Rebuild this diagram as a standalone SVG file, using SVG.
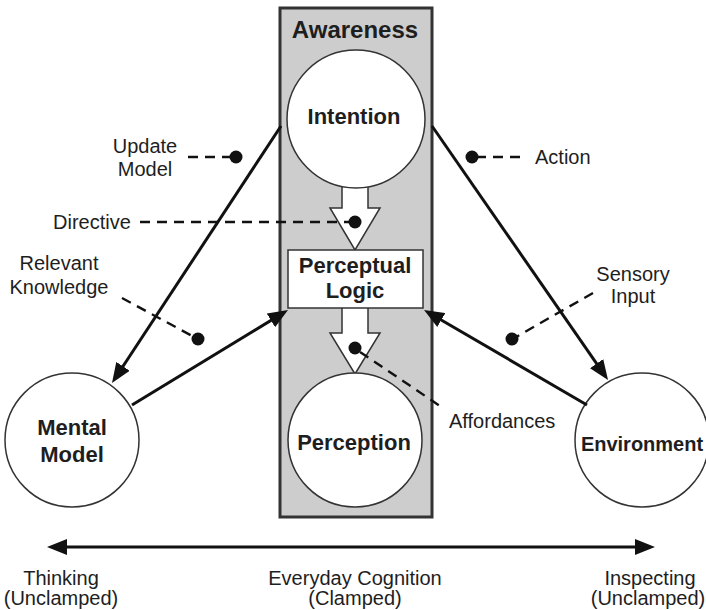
<svg xmlns="http://www.w3.org/2000/svg" width="706" height="610" viewBox="0 0 706 610">
<style>
.lbl{font-family:"Liberation Sans",Arial,sans-serif;font-size:20px;fill:#1e1e1e}
.bold{font-family:"Liberation Sans",Arial,sans-serif;font-size:22px;font-weight:bold;fill:#1e1e1e}
.node{fill:#fff;stroke:#333;stroke-width:1.5}
.hollow{fill:#fff;stroke:#333;stroke-width:1.5;stroke-linejoin:miter}
.conn{stroke:#111;stroke-width:3;fill:none}
.dash{stroke:#111;stroke-width:2.4;stroke-dasharray:10 7;fill:none}
.dot{fill:#111}
</style>
<defs>
<marker id="ah" viewBox="0 0 20 16" refX="14" refY="8" markerWidth="20" markerHeight="16" orient="auto-start-reverse" markerUnits="userSpaceOnUse">
<path d="M0,0 L20,8 L0,16 z" fill="#111"/>
</marker>
</defs>
<rect width="706" height="610" fill="#fff"/>

<g id="awareness">
<rect x="280" y="8" width="152" height="509" fill="#cdcdcd" stroke="#333" stroke-width="3"/>
<text class="bold" x="355" y="38" text-anchor="middle" style="font-size:24px">Awareness</text>
</g>

<g id="directive-arrow">
<polygon class="hollow" points="342,180 368,180 368,208 380,208 355,250 330,208 342,208"/>
</g>
<g id="affordance-arrow">
<polygon class="hollow" points="342,305 368,305 368,333 380,333 355,374 330,333 342,333"/>
</g>

<g id="intention">
<circle class="node" cx="356" cy="119" r="69"/>
<text class="bold" x="354" y="124" text-anchor="middle">Intention</text>
</g>

<g id="perceptual-logic">
<rect class="node" x="288" y="250" width="135" height="58"/>
<text class="bold" x="355" y="273" text-anchor="middle">Perceptual</text>
<text class="bold" x="355" y="298" text-anchor="middle">Logic</text>
</g>

<g id="perception">
<circle class="node" cx="355" cy="440" r="67"/>
<text class="bold" x="354" y="450" text-anchor="middle">Perception</text>
</g>

<g id="mental-model">
<circle class="node" cx="72" cy="440" r="67"/>
<text class="bold" x="72" y="435" text-anchor="middle">Mental</text>
<text class="bold" x="72" y="462" text-anchor="middle">Model</text>
</g>

<g id="environment">
<circle class="node" cx="642" cy="440" r="67"/>
<text class="bold" x="642" y="451" text-anchor="middle" style="font-size:20px">Environment</text>
</g>

<g id="connectors">
<line class="conn" x1="281" y1="126" x2="115.3" y2="378" marker-end="url(#ah)"/>
<line class="conn" x1="432" y1="126" x2="604.6" y2="375.1" marker-end="url(#ah)"/>
<line class="conn" x1="132" y1="405" x2="282.9" y2="313.1" marker-end="url(#ah)"/>
<line class="conn" x1="587" y1="405" x2="429.2" y2="313" marker-end="url(#ah)"/>
<line class="conn" x1="53" y1="547" x2="649" y2="547" marker-start="url(#ah)" marker-end="url(#ah)"/>

<line class="dash" x1="188" y1="157" x2="232" y2="157"/>
<circle class="dot" cx="236" cy="157" r="6.5"/>
<line class="dash" x1="476" y1="157" x2="522" y2="157"/>
<circle class="dot" cx="472" cy="157" r="6.5"/>
<line class="dash" x1="140" y1="222" x2="350" y2="222"/>
<circle class="dot" cx="355" cy="222" r="6.5"/>
<line class="dash" x1="122" y1="298" x2="194" y2="337"/>
<circle class="dot" cx="198" cy="339" r="6.5"/>
<line class="dash" x1="593" y1="293" x2="516" y2="337"/>
<circle class="dot" cx="512" cy="339" r="6.5"/>
<line class="dash" x1="360" y1="352" x2="443" y2="408"/>
<circle class="dot" cx="355" cy="348" r="6.5"/>
</g>

<g id="labels">
<text class="lbl" x="145" y="153" text-anchor="middle">Update</text>
<text class="lbl" x="145" y="176" text-anchor="middle">Model</text>
<text class="lbl" x="535" y="164">Action</text>
<text class="lbl" x="53" y="229">Directive</text>
<text class="lbl" x="59" y="270" text-anchor="middle">Relevant</text>
<text class="lbl" x="59" y="294" text-anchor="middle">Knowledge</text>
<text class="lbl" x="633" y="281" text-anchor="middle">Sensory</text>
<text class="lbl" x="633" y="303" text-anchor="middle">Input</text>
<text class="lbl" x="449" y="428">Affordances</text>
<text class="lbl" x="61" y="585" text-anchor="middle">Thinking</text>
<text class="lbl" x="61" y="605" text-anchor="middle">(Unclamped)</text>
<text class="lbl" x="355" y="585" text-anchor="middle">Everyday Cognition</text>
<text class="lbl" x="355" y="605" text-anchor="middle">(Clamped)</text>
<text class="lbl" x="650" y="585" text-anchor="middle">Inspecting</text>
<text class="lbl" x="648" y="605" text-anchor="middle">(Unclamped)</text>
</g>
</svg>
